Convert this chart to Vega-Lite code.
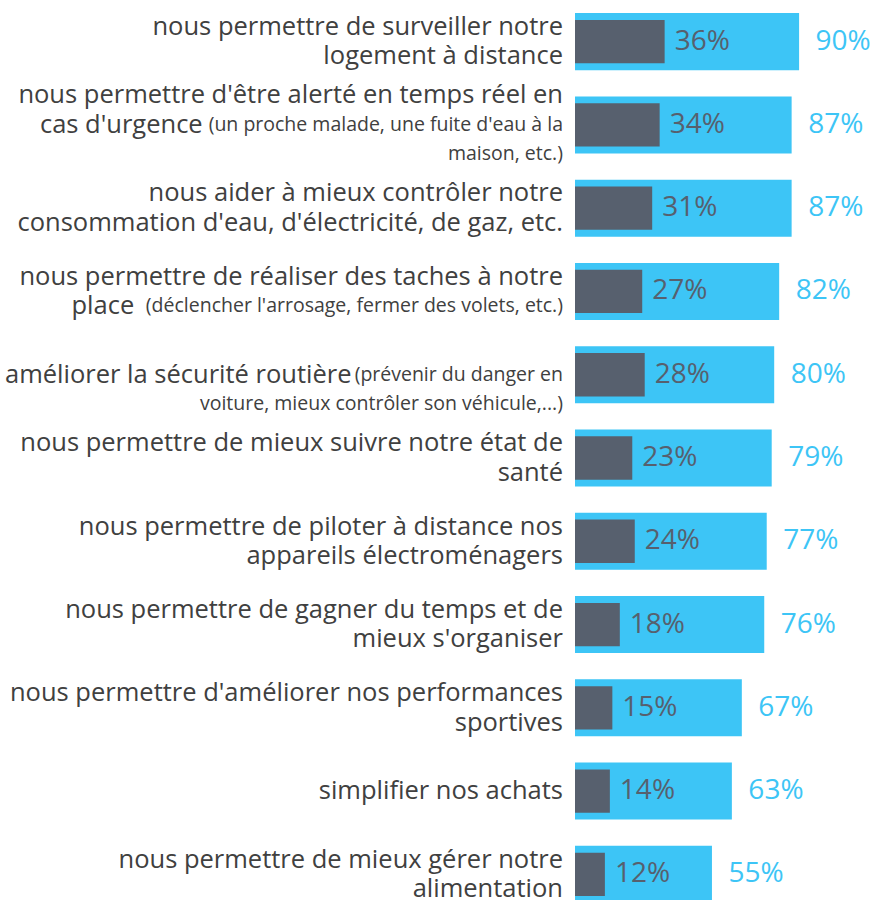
{
  "$schema": "https://vega.github.io/schema/vega-lite/v6.json",
  "width": 249,
  "height": 916,
  "autosize": {"type": "none"},
  "padding": {"left": 575, "top": 0, "right": 52, "bottom": 0},
  "config": {"view": {"stroke": null}},
  "datasets": {
    "bars": [
      {"item": "surveiller", "sub": 0.36, "total": 0.90},
      {"item": "alerte", "sub": 0.34, "total": 0.87},
      {"item": "consommation", "sub": 0.31, "total": 0.87},
      {"item": "taches", "sub": 0.27, "total": 0.82},
      {"item": "securite", "sub": 0.28, "total": 0.80},
      {"item": "sante", "sub": 0.23, "total": 0.79},
      {"item": "electromenager", "sub": 0.24, "total": 0.77},
      {"item": "temps", "sub": 0.18, "total": 0.76},
      {"item": "sport", "sub": 0.15, "total": 0.67},
      {"item": "achats", "sub": 0.14, "total": 0.63},
      {"item": "alimentation", "sub": 0.12, "total": 0.55}
    ],
    "lines": [
      {"item": "surveiller", "line": 1, "n": 2, "part": "main", "text": "nous permettre de surveiller notre", "after": ""},
      {"item": "surveiller", "line": 2, "n": 2, "part": "main", "text": "logement à distance", "after": ""},
      {"item": "alerte", "line": 1, "n": 3, "part": "main", "text": "nous permettre d'être alerté en temps réel en", "after": ""},
      {"item": "alerte", "line": 2, "n": 3, "part": "main", "text": "cas d'urgence", "after": "(un proche malade, une fuite d'eau à la"},
      {"item": "alerte", "line": 2, "n": 3, "part": "detail", "text": "(un proche malade, une fuite d'eau à la", "after": ""},
      {"item": "alerte", "line": 3, "n": 3, "part": "detail", "text": "maison, etc.)", "after": ""},
      {"item": "consommation", "line": 1, "n": 2, "part": "main", "text": "nous aider à mieux contrôler notre", "after": ""},
      {"item": "consommation", "line": 2, "n": 2, "part": "main", "text": "consommation d'eau, d'électricité, de gaz, etc.", "after": ""},
      {"item": "taches", "line": 1, "n": 2, "part": "main", "text": "nous permettre de réaliser des taches à notre", "after": ""},
      {"item": "taches", "line": 2, "n": 2, "part": "main", "text": "place", "after": "(déclencher l'arrosage, fermer des volets, etc.)"},
      {"item": "taches", "line": 2, "n": 2, "part": "detail", "text": "(déclencher l'arrosage, fermer des volets, etc.)", "after": ""},
      {"item": "securite", "line": 2, "n": 3, "part": "main", "text": "améliorer la sécurité routière", "after": "(prévenir du danger en"},
      {"item": "securite", "line": 2, "n": 3, "part": "detail", "text": "(prévenir du danger en", "after": ""},
      {"item": "securite", "line": 3, "n": 3, "part": "detail", "text": "voiture, mieux contrôler son véhicule,...)", "after": ""},
      {"item": "sante", "line": 1, "n": 2, "part": "main", "text": "nous permettre de mieux suivre notre état de", "after": ""},
      {"item": "sante", "line": 2, "n": 2, "part": "main", "text": "santé", "after": ""},
      {"item": "electromenager", "line": 1, "n": 2, "part": "main", "text": "nous permettre de piloter à distance nos", "after": ""},
      {"item": "electromenager", "line": 2, "n": 2, "part": "main", "text": "appareils électroménagers", "after": ""},
      {"item": "temps", "line": 1, "n": 2, "part": "main", "text": "nous permettre de gagner du temps et de", "after": ""},
      {"item": "temps", "line": 2, "n": 2, "part": "main", "text": "mieux s'organiser", "after": ""},
      {"item": "sport", "line": 1, "n": 2, "part": "main", "text": "nous permettre d'améliorer nos performances", "after": ""},
      {"item": "sport", "line": 2, "n": 2, "part": "main", "text": "sportives", "after": ""},
      {"item": "achats", "line": 1, "n": 1, "part": "main", "text": "simplifier nos achats", "after": ""},
      {"item": "alimentation", "line": 1, "n": 2, "part": "main", "text": "nous permettre de mieux gérer notre", "after": ""},
      {"item": "alimentation", "line": 2, "n": 2, "part": "main", "text": "alimentation", "after": ""}
    ]
  },
  "layer": [
    {
      "data": {"name": "bars"},
      "mark": {"type": "bar", "height": {"band": 0.685}, "color": "#3DC5F6"},
      "encoding": {
        "y": {"field": "item", "type": "nominal", "scale": {"domain": ["surveiller", "alerte", "consommation", "taches", "securite", "sante", "electromenager", "temps", "sport", "achats", "alimentation"], "paddingInner": 0, "paddingOuter": 0}, "axis": null},
        "x": {"field": "total", "type": "quantitative", "scale": {"domain": [0, 1]}, "axis": null}
      }
    },
    {
      "data": {"name": "bars"},
      "mark": {"type": "bar", "height": {"band": 0.52}, "color": "#57606E"},
      "encoding": {
        "y": {"field": "item", "type": "nominal", "axis": null},
        "x": {"field": "sub", "type": "quantitative", "axis": null}
      }
    },
    {
      "data": {"name": "bars"},
      "mark": {"type": "text", "align": "left", "baseline": "middle", "dx": 10, "fontSize": 28, "font": "Open Sans", "color": "#57606E"},
      "encoding": {
        "y": {"field": "item", "type": "nominal"},
        "x": {"field": "sub", "type": "quantitative"},
        "text": {"field": "sub", "type": "quantitative", "format": ".0%"}
      }
    },
    {
      "data": {"name": "bars"},
      "mark": {"type": "text", "align": "left", "baseline": "middle", "dx": 16.5, "fontSize": 28, "font": "Open Sans", "color": "#3DC5F6"},
      "encoding": {
        "y": {"field": "item", "type": "nominal"},
        "x": {"field": "total", "type": "quantitative"},
        "text": {"field": "total", "type": "quantitative", "format": ".0%"}
      }
    },
    {
      "data": {"name": "lines"},
      "mark": {"type": "text", "align": "right", "baseline": "middle", "font": "Open Sans", "color": "#404040",
        "dx": {"expr": "datum.after == '' ? -12 : -17 - 20.2 * (0.57 * length(datum.after) - 0.29 * length(replace(datum.after, regexp(\"[^il'., ()ftrj]\", \"g\"), \"\")))"},
        "dy": {"expr": "(datum.line - (datum.n + 1) / 2) * 29.5"}},
      "encoding": {
        "y": {"field": "item", "type": "nominal"},
        "x": {"datum": 0, "type": "quantitative"},
        "text": {"field": "text", "type": "nominal"},
        "size": {"field": "part", "type": "nominal", "scale": {"domain": ["main", "detail"], "range": [25.5, 19.5]}, "legend": null}
      }
    }
  ]
}
